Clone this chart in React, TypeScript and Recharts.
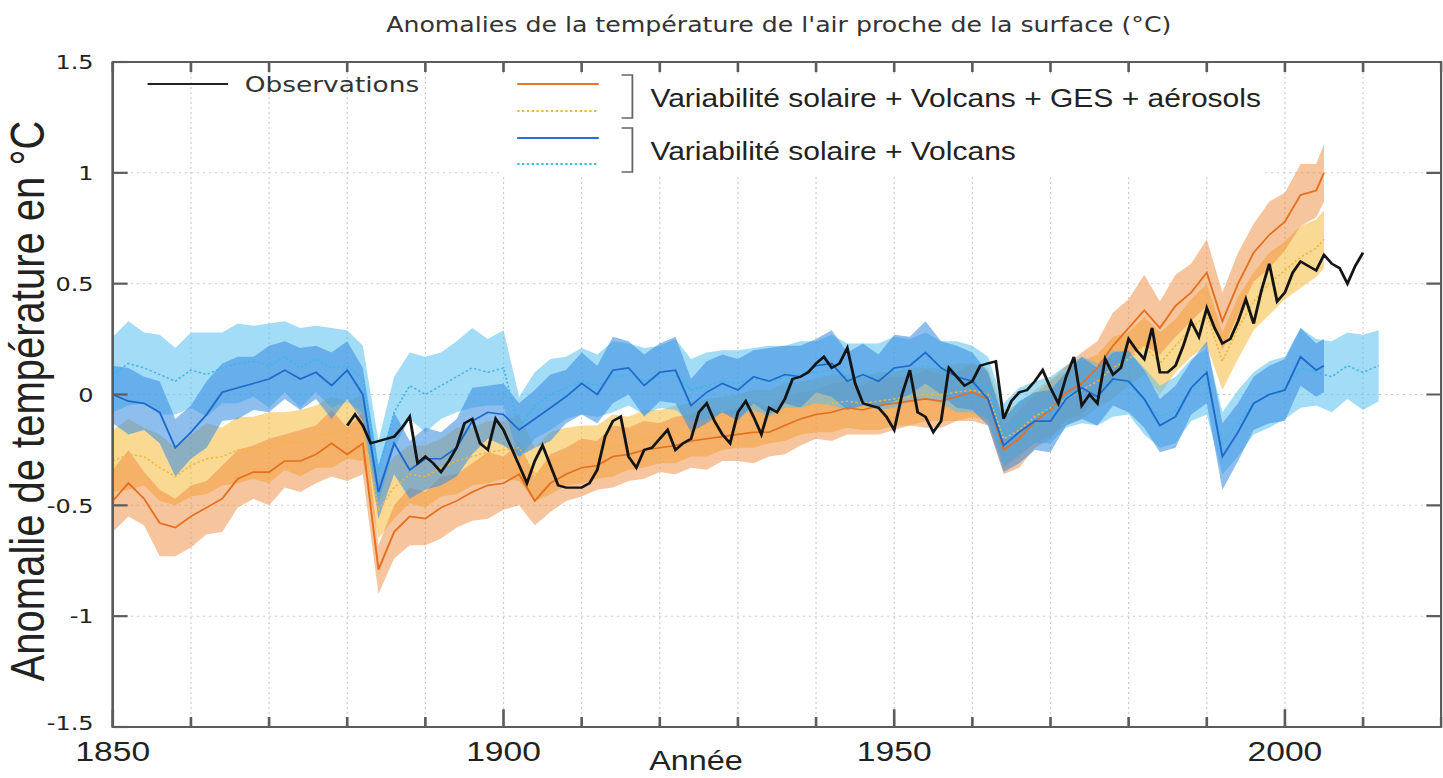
import React from 'react';
import { ComposedChart, Line, Area, XAxis, YAxis, CartesianGrid, ReferenceLine } from 'recharts';

// the reference picture is stretched sideways, so the whole chart is drawn
// narrower and then scaled back out horizontally
const SX = 1.2;
const W = 1202;
const H = 778;
const MARGIN = { top: 62, right: 1, bottom: 0, left: 0 };
const X_AXIS_H = 51;
const Y_AXIS_W = 94;

const AXIS = '#5c5c5c';

const X_MIN = 1850;
const X_MAX = 2020;
const Y_MIN = -1.5;
const Y_MAX = 1.5;

const decades = [1850, 1860, 1870, 1880, 1890, 1900, 1910, 1920, 1930, 1940, 1950, 1960, 1970, 1980, 1990, 2000, 2010, 2020];
const yTicks = [-1.5, -1, -0.5, 0, 0.5, 1, 1.5];

// categories (years)
const obsYears = Array.from({ length: 131 }, (_, i) => 1880 + i);
const modelYears = [...Array.from({ length: 78 }, (_, i) => 1850 + 2 * i), 2005];
const naturalAltYears = Array.from({ length: 82 }, (_, i) => 1850 + 2 * i);

// observations, 1880-2010
const observations = [
  -0.14, -0.09, -0.14, -0.22, -0.21, -0.2, -0.19, -0.15, -0.1, -0.31,
  -0.28, -0.31, -0.35, -0.3, -0.24, -0.13, -0.11, -0.22, -0.25, -0.11,
  -0.16, -0.24, -0.32, -0.4, -0.3, -0.23, -0.32, -0.41, -0.42, -0.42,
  -0.42, -0.4, -0.34, -0.19, -0.12, -0.1, -0.28, -0.33, -0.25, -0.24,
  -0.2, -0.16, -0.25, -0.22, -0.2, -0.08, -0.04, -0.12, -0.18, -0.22,
  -0.08, -0.03, -0.1, -0.18, -0.06, -0.08, -0.02, 0.07, 0.08, 0.1,
  0.14, 0.17, 0.12, 0.14, 0.21, 0.05, -0.04, -0.05, -0.06, -0.1,
  -0.16, 0.0, 0.11, -0.08, -0.1, -0.17, -0.12, 0.12, 0.08, 0.04,
  0.06, 0.13, 0.14, 0.15, -0.11, -0.03, 0.01, 0.02, 0.06, 0.11,
  0.03, -0.04, 0.08, 0.17, -0.05, 0.0, -0.04, 0.16, 0.09, 0.12,
  0.25, 0.2, 0.16, 0.3, 0.1, 0.1, 0.13, 0.22, 0.33, 0.26,
  0.39, 0.3, 0.23, 0.25, 0.33, 0.43, 0.32, 0.47, 0.59, 0.42,
  0.46, 0.55, 0.6, 0.58, 0.56, 0.63, 0.59, 0.57, 0.5, 0.58,
  0.64,
];

// solaire + volcans + GES + aérosols, orange (solid) model mean and spread
const allForcing = [
  -0.48, -0.4, -0.47, -0.58, -0.6, -0.55, -0.51, -0.47, -0.38, -0.35,
  -0.35, -0.3, -0.3, -0.27, -0.22, -0.27, -0.22, -0.79, -0.62, -0.55,
  -0.56, -0.51, -0.48, -0.44, -0.41, -0.4, -0.36, -0.48, -0.4, -0.36,
  -0.33, -0.32, -0.28, -0.27, -0.25, -0.24, -0.23, -0.21, -0.2, -0.19,
  -0.18, -0.17, -0.17, -0.14, -0.11, -0.09, -0.08, -0.06, -0.07, -0.05,
  -0.04, -0.03, -0.02, -0.03, -0.01, 0.01, -0.02, -0.25, -0.2, -0.12,
  -0.07, 0.01, 0.05, 0.12, 0.22, 0.3, 0.38, 0.3, 0.4, 0.46,
  0.55, 0.33, 0.5, 0.64, 0.72, 0.78, 0.9, 0.92,
  1.0,
];
const allForcingSpread = [
  0.14, 0.15, 0.12, 0.15, 0.13, 0.14, 0.12, 0.15, 0.13, 0.12,
  0.15, 0.12, 0.14, 0.13, 0.15, 0.12, 0.14, 0.11, 0.12, 0.13,
  0.12, 0.14, 0.12, 0.13, 0.15, 0.12, 0.14, 0.11, 0.13, 0.12,
  0.13, 0.11, 0.14, 0.12, 0.13, 0.11, 0.13, 0.12, 0.14, 0.11,
  0.12, 0.14, 0.11, 0.13, 0.12, 0.11, 0.13, 0.12, 0.11, 0.13,
  0.12, 0.11, 0.13, 0.12, 0.11, 0.13, 0.12, 0.11, 0.13, 0.12,
  0.13, 0.12, 0.14, 0.12, 0.15, 0.13, 0.16, 0.12, 0.14, 0.13,
  0.15, 0.13, 0.14, 0.13, 0.15, 0.13, 0.14, 0.12,
  0.13,
];

// same forcings, yellow (dotted) second ensemble
const allForcingAlt = [
  -0.3, -0.27, -0.28, -0.33, -0.37, -0.32, -0.29, -0.28, -0.25, -0.24,
  -0.24, -0.21, -0.22, -0.19, -0.17, -0.16, -0.15, -0.52, -0.42, -0.36,
  -0.37, -0.33, -0.3, -0.28, -0.26, -0.25, -0.24, -0.36, -0.31, -0.28,
  -0.27, -0.26, -0.23, -0.22, -0.2, -0.19, -0.18, -0.16, -0.15, -0.13,
  -0.12, -0.11, -0.1, -0.08, -0.06, -0.05, -0.04, -0.03, -0.04, -0.03,
  -0.02, -0.01, 0.0, 0.0, 0.01, 0.02, 0.0, -0.2, -0.16, -0.1,
  -0.06, -0.02, 0.02, 0.06, 0.12, 0.16, 0.22, 0.14, 0.22, 0.3,
  0.36, 0.15, 0.3, 0.42, 0.5, 0.56, 0.62, 0.66,
  0.7,
];
const allForcingAltSpread = [
  0.14, 0.16, 0.13, 0.15, 0.13, 0.14, 0.16, 0.13, 0.15, 0.14,
  0.16, 0.13, 0.15, 0.14, 0.16, 0.13, 0.15, 0.13, 0.14, 0.13,
  0.14, 0.13, 0.15, 0.13, 0.14, 0.13, 0.15, 0.12, 0.14, 0.13,
  0.13, 0.12, 0.14, 0.12, 0.13, 0.12, 0.13, 0.12, 0.13, 0.12,
  0.12, 0.13, 0.12, 0.13, 0.12, 0.12, 0.13, 0.12, 0.12, 0.13,
  0.12, 0.13, 0.12, 0.12, 0.13, 0.12, 0.12, 0.13, 0.12, 0.12,
  0.13, 0.12, 0.13, 0.12, 0.14, 0.12, 0.13, 0.14, 0.12, 0.13,
  0.14, 0.13, 0.14, 0.13, 0.14, 0.13, 0.14, 0.13,
  0.13,
];

// solaire + volcans only, blue (solid)
const natural = [
  0.0, -0.03, -0.04, -0.08, -0.24, -0.17, -0.09, 0.01, 0.03, 0.05,
  0.07, 0.11, 0.07, 0.1, 0.04, 0.11, 0.0, -0.44, -0.22, -0.34,
  -0.29, -0.29, -0.24, -0.12, -0.08, -0.09, -0.16, -0.11, -0.06, -0.01,
  0.05, 0.0, 0.11, 0.12, 0.04, 0.1, 0.11, -0.05, 0.01, 0.05,
  0.02, 0.08, 0.06, 0.09, 0.08, 0.13, 0.14, 0.06, 0.09, 0.06,
  0.12, 0.13, 0.19, 0.12, 0.08, 0.06, -0.02, -0.23, -0.17, -0.12,
  -0.12, -0.02, 0.03, -0.01, 0.07, 0.06, -0.02, -0.14, -0.1, 0.03,
  0.1, -0.28, -0.17, -0.04, 0.0, 0.02, 0.17, 0.11,
  0.13,
];
const naturalSpread = [
  0.13, 0.15, 0.12, 0.14, 0.13, 0.12, 0.15, 0.13, 0.14, 0.12,
  0.15, 0.13, 0.14, 0.12, 0.15, 0.13, 0.12, 0.12, 0.14, 0.13,
  0.14, 0.12, 0.13, 0.15, 0.12, 0.14, 0.12, 0.13, 0.15, 0.12,
  0.14, 0.13, 0.15, 0.12, 0.14, 0.13, 0.15, 0.12, 0.14, 0.13,
  0.14, 0.12, 0.15, 0.13, 0.14, 0.12, 0.15, 0.13, 0.14, 0.12,
  0.15, 0.13, 0.14, 0.12, 0.14, 0.13, 0.12, 0.12, 0.14, 0.13,
  0.14, 0.12, 0.14, 0.13, 0.12, 0.14, 0.13, 0.12, 0.14, 0.12,
  0.14, 0.15, 0.13, 0.12, 0.13, 0.14, 0.13, 0.12,
  0.12,
];

// solaire + volcans, light blue (dotted) second ensemble, 1850-2012
const naturalAlt = [
  0.09, 0.14, 0.12, 0.09, 0.06, 0.11, 0.09, 0.12, 0.14, 0.15,
  0.13, 0.17, 0.12, 0.16, 0.12, 0.13, 0.07, -0.35, -0.08, 0.04,
  0.0, 0.04, 0.08, 0.12, 0.1, 0.12, -0.15, -0.05, 0.0, 0.03,
  0.06, 0.04, 0.08, 0.09, 0.06, 0.08, 0.09, 0.02, 0.04, 0.06,
  0.05, 0.07, 0.06, 0.08, 0.09, 0.1, 0.11, 0.08, 0.09, 0.08,
  0.1, 0.11, 0.13, 0.1, 0.08, 0.07, 0.03, -0.18, -0.12, -0.08,
  -0.07, -0.01, 0.02, 0.0, 0.05, 0.05, -0.03, -0.1, -0.07, 0.02,
  0.06, -0.22, -0.13, -0.04, 0.0, 0.03, 0.12, 0.1, 0.08, 0.13,
  0.1, 0.13,
];
const naturalAltSpread = [
  0.17, 0.19, 0.16, 0.18, 0.15, 0.17, 0.19, 0.16, 0.18, 0.16,
  0.19, 0.16, 0.18, 0.15, 0.18, 0.16, 0.15, 0.14, 0.16, 0.15,
  0.17, 0.15, 0.16, 0.18, 0.15, 0.17, 0.14, 0.15, 0.16, 0.14,
  0.15, 0.14, 0.16, 0.14, 0.15, 0.14, 0.16, 0.14, 0.15, 0.14,
  0.15, 0.14, 0.16, 0.14, 0.15, 0.14, 0.16, 0.15, 0.14, 0.15,
  0.16, 0.14, 0.15, 0.14, 0.16, 0.15, 0.14, 0.14, 0.15, 0.14,
  0.15, 0.14, 0.15, 0.14, 0.15, 0.14, 0.15, 0.14, 0.15, 0.14,
  0.15, 0.14, 0.15, 0.14, 0.15, 0.14, 0.18, 0.15, 0.16, 0.15,
  0.17, 0.16,
];

const obsData = obsYears.map((year, i) => ({ year, value: observations[i] }));

const toBand = (years: number[], mean: number[], spread: number[]) =>
  years.map((year, i) => ({
    year,
    mean: mean[i],
    range: [+(mean[i] - spread[i]).toFixed(3), +(mean[i] + spread[i]).toFixed(3)],
  }));

const orangeData = toBand(modelYears, allForcing, allForcingSpread);
const yellowData = toBand(modelYears, allForcingAlt, allForcingAltSpread);
const blueData = toBand(modelYears, natural, naturalSpread);
const cyanData = toBand(naturalAltYears, naturalAlt, naturalAltSpread);

// inward tick marks, in data units
const X_TICK = 0.045;
const X_TICK_MAJOR = 0.08;
const Y_TICK = 1.9; // in years

// plot box, from the chart margins and axis sizes
const PLOT = {
  x: MARGIN.left + Y_AXIS_W,
  y: MARGIN.top,
  w: W - MARGIN.left - Y_AXIS_W - MARGIN.right,
  h: H - MARGIN.top - X_AXIS_H - MARGIN.bottom,
};

const BottomLabel = (props: any) => {
  const { x, y, payload } = props;
  if (payload.value % 50 !== 0) return <g />;
  return (
    <text x={x} y={y + 34} textAnchor="middle" fontFamily="Liberation Sans, Arial" fontSize={28} fill="#222">
      {payload.value}
    </text>
  );
};

const LeftLabel = (props: any) => {
  const { x, y, payload } = props;
  return (
    <text
      x={x - 16}
      y={payload.value === -1.5 ? y - 4 : y}
      dy="0.36em"
      textAnchor="end"
      fontFamily="DejaVu Sans"
      fontSize={20}
      fill="#222"
    >
      {payload.value}
    </text>
  );
};

const Overlay = () => (
  <svg width={W} height={H} style={{ position: 'absolute', left: 0, top: 0, pointerEvents: 'none' }}>
    {/* plot frame */}
    <rect x={PLOT.x} y={PLOT.y} width={PLOT.w} height={PLOT.h} fill="none" stroke={AXIS} strokeWidth={2} />

    <text x={649} y={32} textAnchor="middle" fontFamily="DejaVu Sans" fontSize={21} fill="#333">
      Anomalies de la température de l'air proche de la surface (°C)
    </text>
    <text
      transform="translate(37,401) rotate(-90)"
      textAnchor="middle"
      fontFamily="Liberation Sans, Arial"
      fontSize={40}
      fill="#222"
    >
      Anomalie de température en °C
    </text>
    <text x={580} y={770} textAnchor="middle" fontFamily="Liberation Sans, Arial" fontSize={27} fill="#222">
      Année
    </text>

    <line x1={123} x2={190} y1={84} y2={84} stroke="#222" strokeWidth={2} />
    <text x={204} y={92} fontFamily="DejaVu Sans" fontSize={22} fill="#333">
      Observations
    </text>

    <rect x={417} y={75} width={637} height={101} fill="#fff" />
    <line x1={431} x2={499} y1={84} y2={84} stroke="#e8772a" strokeWidth={2} />
    <line x1={431} x2={499} y1={111} y2={111} stroke="#f2b640" strokeWidth={2} strokeDasharray="2 2" />
    <line x1={431} x2={499} y1={138} y2={138} stroke="#2474d4" strokeWidth={2} />
    <line x1={431} x2={499} y1={164} y2={164} stroke="#45bbed" strokeWidth={2} strokeDasharray="2 2" />
    <path d="M518,75 H527 V118 H518" fill="none" stroke="#666" strokeWidth={1.5} />
    <path d="M518,128 H527 V172 H518" fill="none" stroke="#666" strokeWidth={1.5} />
    <text x={542} y={107} fontFamily="Liberation Sans, Arial" fontSize={25} fill="#222">
      Variabilité solaire + Volcans + GES + aérosols
    </text>
    <text x={542} y={160} fontFamily="Liberation Sans, Arial" fontSize={25} fill="#222">
      Variabilité solaire + Volcans
    </text>
  </svg>
);

const App = () => {
  return (
    <div style={{ position: 'absolute', left: 0, top: 0, width: 1443, height: 778, overflow: 'hidden', background: '#fff' }}>
      <div style={{ position: 'relative', width: W, height: H, transform: `scaleX(${SX})`, transformOrigin: '0 0' }}>
        <ComposedChart width={W} height={H} margin={MARGIN}>
          <CartesianGrid stroke="#cdcdcd" strokeDasharray="2 3" />
          <XAxis
            dataKey="year"
            type="number"
            domain={[X_MIN, X_MAX]}
            ticks={decades}
            interval={0}
            height={X_AXIS_H}
            tickSize={0}
            tickMargin={0}
            tickLine={false}
            tick={BottomLabel}
            axisLine={{ stroke: AXIS, strokeWidth: 2 }}
            allowDataOverflow
          />
          <YAxis
            type="number"
            domain={[Y_MIN, Y_MAX]}
            ticks={yTicks}
            interval={0}
            width={Y_AXIS_W}
            tickSize={0}
            tickMargin={0}
            tickLine={false}
            tick={LeftLabel}
            axisLine={{ stroke: AXIS, strokeWidth: 2 }}
            allowDataOverflow
          />

          <Area data={yellowData} dataKey="range" type="linear" stroke="none" fill="#f5b93a" fillOpacity={0.55} isAnimationActive={false} activeDot={false} />
          <Area data={orangeData} dataKey="range" type="linear" stroke="none" fill="#ee8a3c" fillOpacity={0.5} isAnimationActive={false} activeDot={false} />
          <Area data={cyanData} dataKey="range" type="linear" stroke="none" fill="#55c0f0" fillOpacity={0.55} isAnimationActive={false} activeDot={false} />
          <Area data={blueData} dataKey="range" type="linear" stroke="none" fill="#3b8fe0" fillOpacity={0.58} isAnimationActive={false} activeDot={false} />

          <Line data={yellowData} dataKey="mean" type="linear" stroke="#f2b640" strokeWidth={1.5} strokeDasharray="2 2" dot={false} activeDot={false} isAnimationActive={false} />
          <Line data={orangeData} dataKey="mean" type="linear" stroke="#e46f1e" strokeWidth={1.6} dot={false} activeDot={false} isAnimationActive={false} />
          <Line data={cyanData} dataKey="mean" type="linear" stroke="#3fb6ea" strokeWidth={1.5} strokeDasharray="2 2" dot={false} activeDot={false} isAnimationActive={false} />
          <Line data={blueData} dataKey="mean" type="linear" stroke="#1d6acb" strokeWidth={1.6} dot={false} activeDot={false} isAnimationActive={false} />
          <Line data={obsData} dataKey="value" type="linear" stroke="#141414" strokeWidth={2.4} dot={false} activeDot={false} isAnimationActive={false} />

          {/* inward tick marks on the four edges */}
          {decades.map((d) => (
            <ReferenceLine
              key={`b${d}`}
              segment={[{ x: d, y: Y_MIN }, { x: d, y: Y_MIN + (d % 50 === 0 ? X_TICK_MAJOR : X_TICK) }]}
              stroke={AXIS}
              strokeWidth={2.2}
            />
          ))}
          {decades.map((d) => (
            <ReferenceLine key={`t${d}`} segment={[{ x: d, y: Y_MAX }, { x: d, y: Y_MAX - X_TICK }]} stroke={AXIS} strokeWidth={2.2} />
          ))}
          {yTicks.map((v) => (
            <ReferenceLine key={`l${v}`} segment={[{ x: X_MIN, y: v }, { x: X_MIN + Y_TICK, y: v }]} stroke={AXIS} strokeWidth={2.2} />
          ))}
          {yTicks.map((v) => (
            <ReferenceLine key={`r${v}`} segment={[{ x: X_MAX, y: v }, { x: X_MAX - Y_TICK, y: v }]} stroke={AXIS} strokeWidth={2.2} />
          ))}
        </ComposedChart>
        <Overlay />
      </div>
    </div>
  );
};

export default App;
